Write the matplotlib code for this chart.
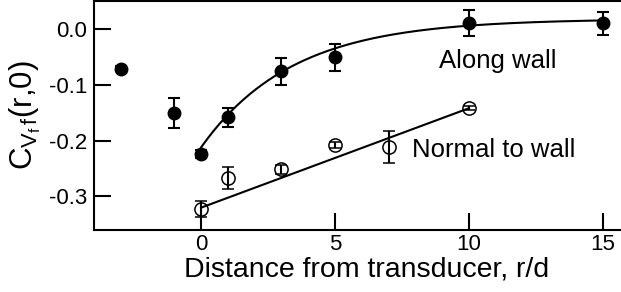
import matplotlib
matplotlib.use('Agg')
import matplotlib.pyplot as plt
import numpy as np

plt.rcParams['font.family'] = ['Liberation Sans', 'DejaVu Sans']
plt.rcParams['mathtext.fontset'] = 'custom'
plt.rcParams['mathtext.rm'] = 'Liberation Sans'
plt.rcParams['mathtext.it'] = 'Liberation Sans'

# Along wall (filled circles)
along_r = [-3, -1, 0, 1, 3, 5, 10, 15]
along_c = [-0.071, -0.151, -0.224, -0.158, -0.076, -0.051, 0.011, 0.010]
along_err = [0.004, 0.027, 0.007, 0.017, 0.024, 0.024, 0.023, 0.020]

# Normal to wall (open circles)
normal_r = [0, 1, 3, 5, 7, 10]
normal_c = [-0.322, -0.267, -0.251, -0.208, -0.211, -0.142]
normal_err = [0.014, 0.019, 0.008, 0.006, 0.029, 0.004]

# fitted curves
along_fit = (0.018, 0.230, 3.4)      # A - B*exp(-r/c)
normal_fit = (-0.320, 0.0178)        # a + b*r

x_ticks = [0, 5, 10, 15]
y_ticks = [0.0, -0.1, -0.2, -0.3]

fig = plt.figure(figsize=(6.21, 2.92), dpi=100)
ax = fig.add_axes([94 / 621, 62 / 292, 527 / 621, 229 / 292])

# fit lines
r1 = np.linspace(0, 15, 200)
A, B, c = along_fit
ax.plot(r1, A - B * np.exp(-r1 / c), color='k', lw=1.5)
r2 = np.array([0, 10])
ax.plot(r2, normal_fit[0] + normal_fit[1] * r2, color='k', lw=1.5)

ax.errorbar(along_r, along_c, yerr=along_err, fmt='o', color='k', ms=9,
            capsize=4.5, elinewidth=1.5, capthick=1.5)
ax.errorbar(normal_r, normal_c, yerr=normal_err, fmt='o', color='k', ms=9.5,
            mfc='none', mec='k', mew=1.1,
            capsize=4.5, elinewidth=1.5, capthick=1.5)

ax.text(8.87, -0.0695, 'Along wall', fontsize=18.5, ha='left', va='baseline')
ax.text(7.87, -0.2288, 'Normal to wall', fontsize=18.5, ha='left', va='baseline')

ax.set_xlim(-4, 15.68)
ax.set_ylim(-0.36, 0.05)
ax.set_xticks(x_ticks)
ax.set_xticklabels([str(v) for v in x_ticks])
ax.set_yticks(y_ticks)
ax.set_yticklabels(['%.1f' % v if v == 0 else '-%.1f' % abs(v) for v in y_ticks])
ax.tick_params(direction='in', length=12.5, width=1.5, labelsize=16, pad=3)
ax.tick_params(axis='y', pad=5)

ax.spines['right'].set_visible(False)
for s in ['left', 'bottom', 'top']:
    ax.spines[s].set_linewidth(1.5)

ax.set_xlabel('Distance from transducer, r/d', fontsize=20.5)
ax.xaxis.set_label_coords(0.518, -0.205, transform=ax.transAxes)
ax.xaxis.label.set_va('baseline')
ax.set_ylabel(r'C$_{\mathrm{V_f\,f}}$(r,0)', fontsize=22.5, labelpad=4)

fig.savefig('out.png', dpi=100)
